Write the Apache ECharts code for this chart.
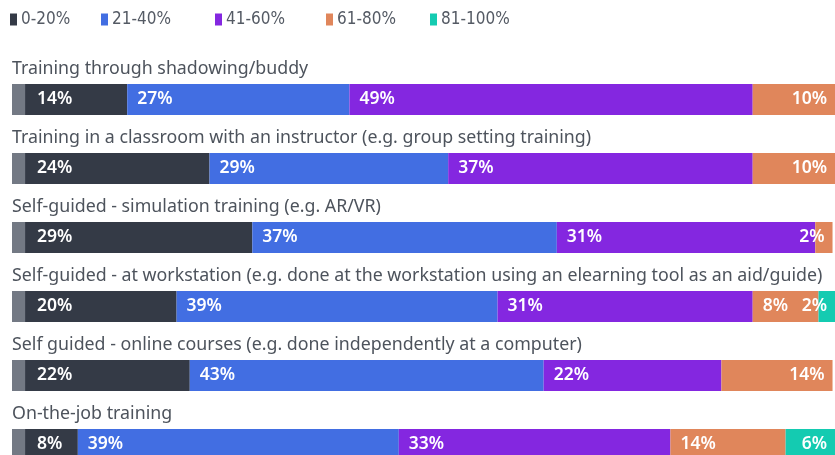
<!DOCTYPE html>
<html>
<head>
<meta charset="utf-8">
<script src="https://cdn.jsdelivr.net/npm/echarts@6/dist/echarts.min.js"></script>
<style>
  html, body { margin: 0; padding: 0; background: #fff; }
  #chart { width: 835px; height: 455px; }
</style>
</head>
<body>
<div id="chart"></div>
<script>
// categories, top to bottom
const categories = [
  'Training through shadowing/buddy',
  'Training in a classroom with an instructor (e.g. group setting training)',
  'Self-guided - simulation training (e.g. AR/VR)',
  'Self-guided - at workstation (e.g. done at the workstation using an elearning tool as an aid/guide)',
  'Self guided - online courses (e.g. done independently at a computer)',
  'On-the-job training'
]
const seriesNames = ['0-20%', '21-40%', '41-60%', '61-80%', '81-100%']
const colors = ['#343a46', '#426ee2', '#8427e0', '#e0865b', '#14cbb1']

// share of respondents per bucket (%)
const v0_20 = [14, 24, 29.2, 20, 21.6, 8]
const v21_40 = [27, 29, 37.0, 39, 43.0, 39]
const v41_60 = [49, 37, 31.4, 31, 21.6, 33]
const v61_80 = [10, 10, 2.1, 8, 13.5, 14]
const v81_100 = [0, 0, 0, 2, 0, 6]
const values = [v0_20, v21_40, v41_60, v61_80, v81_100]

// small grey cap drawn on the left end of every bar
const capValue = 1.6
const capColor = '#737984'

const chart = echarts.init(document.getElementById('chart'))

// index of the last non-zero bucket for each row
const lastIdx = categories.map((c, r) => {
  let k = 0
  values.forEach((arr, s) => { if (arr[r] > 0) k = s })
  return k
})

const labelFont = {
  color: '#ffffff',
  fontFamily: 'Noto Sans',
  fontSize: 17.5,
  fontWeight: 600
}

const series = seriesNames.map((name, s) => ({
  name: name,
  type: 'bar',
  stack: 'total',
  barWidth: 31,
  barGap: '-100%',
  itemStyle: { color: colors[s] },
  label: Object.assign({
    show: true,
    position: 'insideLeft',
    distance: s === 0 ? 25 : 10,
    formatter: p => (p.value > 0 ? Math.round(p.value) + '%' : '')
  }, labelFont),
  data: values[s].map((v, r) => {
    if (lastIdx[r] === s && s > 0) {
      return { value: v, label: { position: 'insideRight', distance: 8 } }
    }
    return v
  })
}))

series.push({
  name: 'cap',
  type: 'bar',
  barWidth: 31,
  barGap: '-100%',
  z: 3,
  silent: true,
  itemStyle: { color: capColor },
  data: categories.map(() => capValue)
})

const legendX = [10, 101, 215, 326, 430]
const legends = seriesNames.map((name, i) => ({
  data: [name],
  left: legendX[i],
  top: 11,
  padding: 0,
  itemWidth: 7,
  itemHeight: 12,
  itemGap: 0,
  icon: 'rect',
  selectedMode: false,
  textStyle: {
    color: '#545a64',
    fontFamily: 'Liberation Sans Narrow, DejaVu Sans Condensed, sans-serif',
    fontSize: 17,
    padding: [0, 0, 0, -1]
  }
}))

const options = {
  animation: false,
  legend: legends,
  grid: {
    left: 12,
    right: 0,
    top: 65,
    height: 414,
    outerBoundsMode: 'none'
  },
  xAxis: {
    type: 'value',
    min: 0,
    max: 100,
    show: false
  },
  yAxis: {
    type: 'category',
    inverse: true,
    data: categories,
    axisLine: { show: false },
    axisTick: { show: false },
    splitLine: { show: false },
    axisLabel: {
      inside: true,
      margin: 0,
      align: 'left',
      verticalAlign: 'bottom',
      padding: [0, 0, 21, 0],
      color: '#4d535c',
      fontFamily: 'Noto Sans',
      fontSize: 17.8,
      lineHeight: 20
    },
    z: 10
  },
  series: series
}
chart.setOption(options)
</script>
</body>
</html>
